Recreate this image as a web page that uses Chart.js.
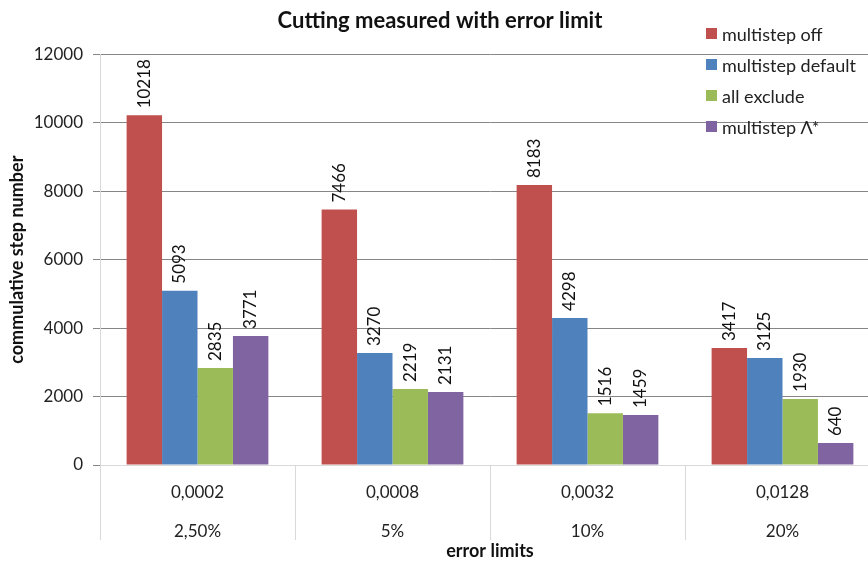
<!DOCTYPE html>
<html lang="en">
<head>
  <meta charset="UTF-8" />
  <title>Cutting measured with error limit</title>
  <script src="https://cdn.jsdelivr.net/npm/chart.js"></script>
  <style>
    html, body { margin: 0; padding: 0; background: #fff; overflow: hidden; width: 868px; height: 563px; }
    #wrap { position: relative; width: 868px; height: 563px; }
    canvas { position: absolute; left: 0; top: 0; }
    #legend { position: absolute; left: 706px; top: 23px; font-family: Lato, sans-serif; font-size: 18px; color: #222; }
    #legend .item { display: flex; align-items: center; height: 21px; margin-bottom: 10px; white-space: nowrap; }
    #legend .box { width: 11px; height: 11px; margin-right: 5px; }
  </style>
</head>
<body>
  <div id="wrap">
    <canvas id="chart" width="880" height="563"></canvas>
    <div id="legend"></div>
  </div>

  <script>
    // data
    const errorValues = ['0,0002', '0,0008', '0,0032', '0,0128'];
    const errorPercents = ['2,50%', '5%', '10%', '20%'];
    const seriesNames = ['multistep off', 'multistep default', 'all exclude', 'multistep \u039B*'];
    const multistepOff = [10218, 7466, 8183, 3417];
    const multistepDefault = [5093, 3270, 4298, 3125];
    const allExclude = [2835, 2219, 1516, 1930];
    const multistepAStar = [3771, 2131, 1459, 640];
    const colors = ['#C0504D', '#4F81BD', '#9BBB59', '#8064A2'];

    const seriesData = [multistepOff, multistepDefault, allExclude, multistepAStar];
    const labels = errorValues.map((v, i) => [v, errorPercents[i]]);

    // legend as plain html
    const legendEl = document.getElementById('legend');
    seriesNames.forEach((name, i) => {
      const item = document.createElement('div');
      item.className = 'item';
      item.innerHTML = `<span class="box" style="background:${colors[i]}"></span><span>${name}</span>`;
      legendEl.appendChild(item);
    });

    // values written vertically above each bar
    const barValues = {
      id: 'barValues',
      afterDatasetsDraw(chart) {
        const ctx = chart.ctx;
        ctx.save();
        ctx.font = '17px Lato, sans-serif';
        ctx.fillStyle = '#111';
        ctx.textAlign = 'left';
        ctx.textBaseline = 'middle';
        chart.data.datasets.forEach((ds, di) => {
          chart.getDatasetMeta(di).data.forEach((bar, i) => {
            ctx.save();
            ctx.translate(bar.x, bar.y - 7);
            ctx.rotate(-Math.PI / 2);
            ctx.fillText(String(ds.data[i]), 0, 0);
            ctx.restore();
          });
        });
        ctx.restore();
      }
    };

    new Chart(document.getElementById('chart').getContext('2d'), {
      type: 'bar',
      data: {
        labels: labels,
        datasets: seriesNames.map((name, i) => ({
          label: name,
          data: seriesData[i],
          backgroundColor: colors[i],
          borderWidth: 0,
          barPercentage: 1,
          categoryPercentage: 0.727
        }))
      },
      options: {
        responsive: false,
        animation: false,
        layout: { padding: 0 },
        plugins: {
          legend: { display: false },
          tooltip: { enabled: false },
          title: {
            display: true,
            text: 'Cutting measured with error limit',
            color: '#111',
            font: { family: 'Lato, sans-serif', size: 22, weight: 'bold' },
            padding: { top: 8, bottom: 20 }
          }
        },
        scales: {
          x: {
            grid: {
              offset: true,
              drawOnChartArea: false,
              drawTicks: true,
              tickLength: 75,
              color: '#d9d9d9'
            },
            border: { color: '#d9d9d9' },
            ticks: {
              color: '#222',
              padding: -67,
              maxRotation: 0,
              font: { family: 'Lato, sans-serif', size: 17, lineHeight: 2.3 }
            },
            title: {
              display: true,
              text: 'error limits',
              color: '#111',
              font: { family: 'Lato, sans-serif', size: 18, weight: 'bold' },
              padding: { top: 0, bottom: 1 }
            },
            afterFit: s => { s.height = 98; }
          },
          y: {
            min: 0,
            max: 12000,
            ticks: {
              stepSize: 2000,
              color: '#222',
              padding: 10,
              font: { family: 'Lato, sans-serif', size: 17 },
              callback: v => String(v)
            },
            grid: { color: '#868686', tickLength: 7 },
            border: { color: '#d9d9d9' },
            title: {
              display: true,
              text: 'commulative step number',
              color: '#111',
              font: { family: 'Lato, sans-serif', size: 18, weight: 'bold' },
              padding: { top: 6, bottom: 0 }
            },
            afterFit: s => { s.width = 100; }
          }
        }
      },
      plugins: [barValues]
    });
  </script>
</body>
</html>
